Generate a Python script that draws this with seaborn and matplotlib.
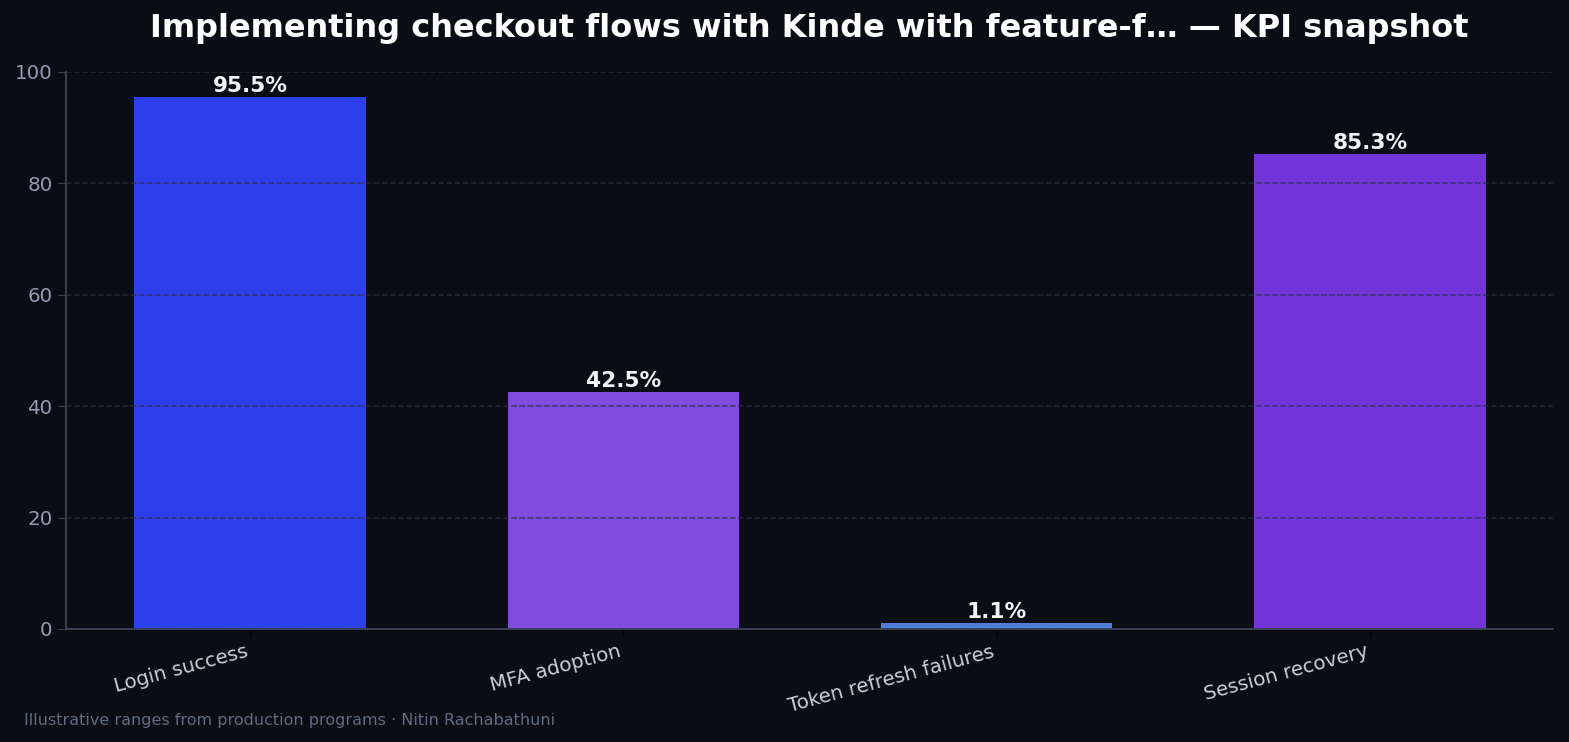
import matplotlib
matplotlib.use("Agg")
import matplotlib.pyplot as plt
import seaborn as sns
import pandas as pd

categories = ["Login success", "MFA adoption", "Token refresh failures", "Session recovery"]
values = [95.5, 42.5, 1.1, 85.3]
colors = ["#2E40EB", "#7F4CDD", "#4F7FD8", "#7335DA"]
title = "Implementing checkout flows with Kinde with feature-f\u2026 \u2014 KPI snapshot"
footer = "Illustrative ranges from production programs \u00b7 Nitin Rachabathuni"

bg = "#0A0D14"
sns.set_style("dark")
plt.rcParams["font.family"] = ["DejaVu Sans"]

df = pd.DataFrame({"cat": categories, "val": values})
fig = plt.figure(figsize=(15.69, 7.42), dpi=100, facecolor=bg)
ax = fig.add_axes([66/1569, 1-629/742, (1553-66)/1569, (629-72)/742])
ax.set_facecolor(bg)
sns.barplot(data=df, x="cat", y="val", hue="cat", palette=colors, width=0.62,
            legend=False, ax=ax, saturation=1, edgecolor="none", linewidth=0)
ax.set_ylim(0, 100)
ax.set_xlim(-0.493, 3.49)
ax.set_yticks([0, 20, 40, 60, 80, 100])
ax.set_axisbelow(False)
ax.grid(axis="y", linestyle="--", color="#2A3142", alpha=0.75, linewidth=1.1, zorder=3)
ax.grid(axis="x", visible=False)
for s in ["top", "right"]:
    ax.spines[s].set_visible(False)
for s in ["left", "bottom"]:
    ax.spines[s].set_visible(True)
    ax.spines[s].set_color("#3A4556")
    ax.spines[s].set_linewidth(1.3)
    ax.spines[s].set_zorder(4)
ax.tick_params(axis="y", colors="#3A4556", labelcolor="#8F9BB0", labelsize=14.3, length=6, left=True)
ax.tick_params(axis="x", colors="#000000", labelcolor="#C8D0DC", labelsize=14.3, length=6, bottom=True)
ax.set_xlabel("")
ax.set_ylabel("")
for lbl in ax.get_xticklabels():
    lbl.set_rotation(15)
    lbl.set_ha("right")
for i, v in enumerate(values):
    ax.text(i, v + 0.2, f"{v}%", ha="center", va="bottom", color="#F2F4F8",
            fontsize=15.6, fontweight="bold", zorder=5)
fig.text(((66 + 1553) / 2) / 1569, 1-28/742, title, ha="center", va="center", color="white",
         fontsize=23, fontweight="bold")
fig.text(24/1569, 1-720/742, footer, ha="left", va="center", color="#5F6B80", fontsize=11.55)
fig.savefig("out.png", dpi=100, facecolor=bg)
